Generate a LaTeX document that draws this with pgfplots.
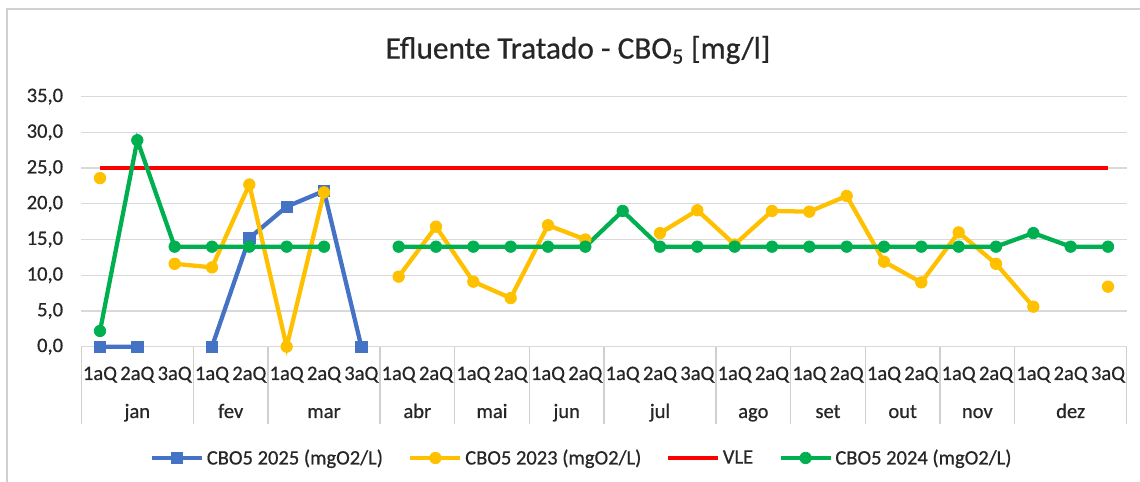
\documentclass[border=0pt]{standalone}
\usepackage{pgfplots}
\pgfplotsset{compat=1.18}
\usepackage{pgfplotstable}
\usepackage{fontspec}
\setmainfont{Carlito}[RawFeature={embolden=0.6}]
\definecolor{cblue}{HTML}{4472C4}
\definecolor{cyellow}{HTML}{FFC000}
\definecolor{cred}{HTML}{FF0000}
\definecolor{cgreen}{HTML}{00B050}
\definecolor{gridgray}{HTML}{D9D9D9}
\definecolor{sepgray}{HTML}{D0D0D0}
\definecolor{txt}{HTML}{262626}

\pgfplotstableread{
x blue yellow vle green
0 0 23.6 25 2.2
1 0 nan 25 28.9
2 nan 11.6 25 14
3 0 11.1 25 14
4 15.2 22.7 25 14
5 19.6 0 25 14
6 21.8 21.6 25 14
7 0 nan 25 nan
8 nan 9.8 25 14
9 nan 16.8 25 14
10 nan 9.1 25 14
11 nan 6.8 25 14
12 nan 17.0 25 14
13 nan 15.0 25 14
14 nan nan 25 19.0
15 nan 15.9 25 14
16 nan 19.1 25 14
17 nan 14.3 25 14
18 nan 19.0 25 14
19 nan 18.9 25 14
20 nan 21.1 25 14
21 nan 11.9 25 14
22 nan 9.0 25 14
23 nan 16.0 25 14
24 nan 11.6 25 14
25 nan 5.6 25 15.9
26 nan nan 25 14
27 nan 8.4 25 14
}\data

\begin{document}
\begin{tikzpicture}
\useasboundingbox (0,0) rectangle (855pt,361.5pt);
\draw[sepgray, line width=1.5pt] (5.25pt,0pt) -- (5.25pt,355pt) -- (855pt,355pt);
\node[font=\fontsize{23.5}{28}\selectfont, text=txt] at (433.5pt,324pt) {Efluente Tratado - CBO\textsubscript{5} [mg/l]};
\begin{axis}[
  at={(61pt,101.5pt)}, anchor=south west,
  scale only axis, width=784pt, height=187.5pt,
  xmin=-0.5, xmax=27.5, ymin=0, ymax=35,
  axis line style={draw=none},
  ytick={0,5,...,35},
  ymajorgrids, grid style={gridgray, line width=0.9pt},
  xtick={0,...,27},
  xticklabels={1aQ,2aQ,3aQ,1aQ,2aQ,1aQ,2aQ,3aQ,1aQ,2aQ,1aQ,2aQ,1aQ,2aQ,1aQ,2aQ,3aQ,1aQ,2aQ,1aQ,2aQ,1aQ,2aQ,1aQ,2aQ,1aQ,2aQ,3aQ},
  minor xtick={-0.5,2.5,4.5,7.5,9.5,11.5,13.5,16.5,18.5,20.5,22.5,24.5,27.5},
  tick align=outside, xtick pos=bottom, ytick pos=left,
  major tick length=0pt, minor tick length=58pt,
  x tick style={sepgray, line width=1.2pt},
  y tick style={draw=none},
  ticklabel style={font=\fontsize{15.4}{18}\selectfont, text=txt},
  xticklabel style={anchor=base, inner sep=0pt, yshift=-25pt},
  yticklabel style={anchor=east, inner sep=0pt, xshift=-13.5pt},
  /pgf/number format/.cd, use comma, fixed, fixed zerofill, precision=1, assume math mode=true,
  /pgfplots/.cd,
  extra x ticks={1,3.5,6,8.5,10.5,12.5,15,17.5,19.5,21.5,23.5,26},
  extra x tick labels={jan,fev,mar,abr,mai,jun,jul,ago,set,out,nov,dez},
  extra x tick style={grid=none, major tick length=0pt, xticklabel style={yshift=-28.5pt}},
  unbounded coords=jump,
  clip=false,
  legend columns=4,
  legend style={at={(0.479,-0.4453)}, anchor=center, draw=none, fill=none,
    font=\fontsize{15.4}{18}\selectfont, text=txt,
    /tikz/every even column/.append style={column sep=17pt}},
  legend cell align=left,
  legend image code/.code={\draw[mark repeat=2,mark phase=2] plot coordinates {(0pt,0pt)(18.75pt,0pt)(37.5pt,0pt)};},
]
\addplot[cblue, line width=3.2pt, mark=square*, mark size=4.2pt, mark options={solid, fill=cblue, line width=0.6pt}] table[x=x, y=blue] {\data};
\addlegendentry{CBO5 2025 (mgO2/L)}
\addplot[cyellow, line width=3.2pt, mark=*, mark size=4.3pt, mark options={solid, fill=cyellow, line width=0.6pt}] table[x=x, y=yellow] {\data};
\addlegendentry{CBO5 2023 (mgO2/L)}
\addplot[cred, line width=2.6pt] table[x=x, y=vle] {\data};
\addlegendentry{VLE}
\addplot[cgreen, line width=3.2pt, mark=*, mark size=4.3pt, mark options={solid, fill=cgreen, line width=0.6pt}] table[x=x, y=green] {\data};
\addlegendentry{CBO5 2024 (mgO2/L)}
\end{axis}
\end{tikzpicture}
\end{document}
